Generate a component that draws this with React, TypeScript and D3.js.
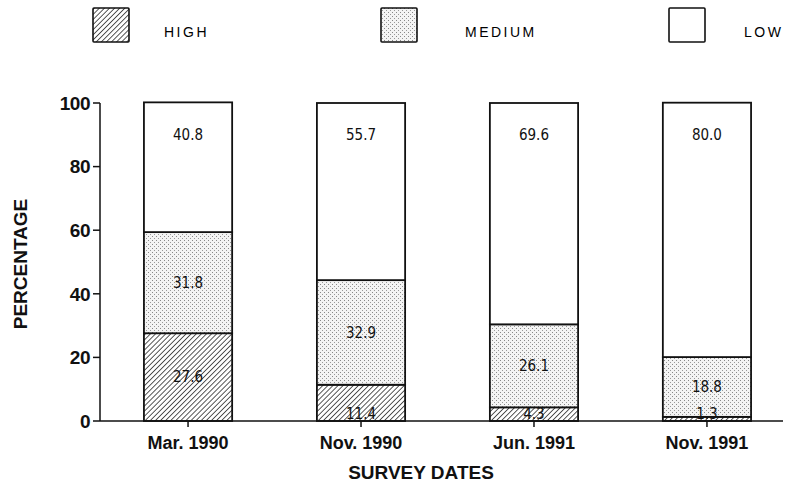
import React from "react";
import * as d3 from "d3";

// survey data, percent of respondents
const dates = ["Mar. 1990", "Nov. 1990", "Jun. 1991", "Nov. 1991"];
const high = [27.6, 11.4, 4.3, 1.3];
const medium = [31.8, 32.9, 26.1, 18.8];
const low = [40.8, 55.7, 69.6, 80.0];
const yTicks = [0, 20, 40, 60, 80, 100];
const legendLabels = ["HIGH", "MEDIUM", "LOW"];

const W = 785,
  H = 486;

export default function App() {
  const x = d3
    .scaleBand()
    .domain(dates)
    .range([100, 795])
    .paddingInner(0.49)
    .paddingOuter(0.254);
  const y = d3.scaleLinear().domain([0, 100]).range([421, 103]);

  const fills = ["url(#hatch)", "url(#dots)", "#fff"];
  const series = [high, medium, low];

  const valueFont = "'Liberation Sans Narrow', 'DejaVu Sans Condensed', sans-serif";
  const boldFont = "Arial, 'Liberation Sans', Helvetica, sans-serif";

  // label anchor inside each segment
  function labelY(s: number, i: number) {
    if (s === 0) return high[i] > 20 ? y(high[i] / 2) : y(0) - 7;
    if (s === 1) return y(high[i] + medium[i] / 2);
    return y(100) + 32;
  }

  const legendX = [93, 381, 669];
  const legendTextX = [164, 465, 744];

  return (
    <svg width={W} height={H} style={{ position: "absolute", left: 0, top: 0, background: "#fff" }}>
      <defs>
        <pattern id="hatch" width="3.6" height="3.6" patternUnits="userSpaceOnUse" patternTransform="rotate(45)">
          <rect width="3.6" height="3.6" fill="#fff" />
          <line x1="0" y1="0" x2="0" y2="3.6" stroke="#111" strokeWidth="1.4" />
        </pattern>
        <pattern id="dots" width="4" height="4" patternUnits="userSpaceOnUse">
          <rect width="4" height="4" fill="#f4f4f4" />
          <rect x="0" y="0" width="1" height="1" fill="#888" />
          <rect x="2" y="2" width="1" height="1" fill="#999" />
        </pattern>
      </defs>

      {/* legend */}
      {legendLabels.map((l, k) => (
        <g key={l}>
          <rect x={legendX[k]} y={8} width={36} height={34} fill={fills[k]} stroke="#111" strokeWidth={1.6} rx={1} />
          <text x={legendTextX[k]} y={37} fontFamily={boldFont} fontSize={14} letterSpacing={2.5} fill="#000">
            {l}
          </text>
        </g>
      ))}

      {/* bars */}
      {dates.map((d, i) => {
        let base = 0;
        return (
          <g key={d}>
            {series.map((s, k) => {
              const y0 = base;
              const y1 = base + s[i];
              base = y1;
              return (
                <rect
                  key={k}
                  x={x(d)!}
                  y={y(y1)}
                  width={x.bandwidth()}
                  height={y(y0) - y(y1)}
                  fill={fills[k]}
                  stroke="#111"
                  strokeWidth={1.8}
                />
              );
            })}
            {series.map((s, k) => (
              <text
                key={"t" + k}
                x={x(d)! + x.bandwidth() / 2}
                y={labelY(k, i)}
                dy="0.35em"
                textAnchor="middle"
                fontFamily={valueFont}
                fontSize={15}
                fill="#111"
              >
                {s[i].toFixed(1)}
              </text>
            ))}
          </g>
        );
      })}

      {/* y axis */}
      <line x1={100} x2={100} y1={y(100)} y2={y(0)} stroke="#111" strokeWidth={1.5} />
      {yTicks.map((t) => (
        <g key={t}>
          <line x1={93} x2={100} y1={y(t)} y2={y(t)} stroke="#111" strokeWidth={1.5} />
          <text x={90} y={y(t)} dy="0.36em" textAnchor="end" fontFamily={boldFont} fontWeight="bold" fontSize={19} letterSpacing={-0.5} fill="#111">
            {t}
          </text>
        </g>
      ))}
      <text
        transform={`translate(27,${(y(0) + y(100)) / 2 + 2}) rotate(-90)`}
        textAnchor="middle"
        fontFamily={boldFont}
        fontWeight="bold"
        fontSize={19}
        fill="#111"
      >
        PERCENTAGE
      </text>

      {/* x axis */}
      <line x1={100} x2={783} y1={y(0)} y2={y(0)} stroke="#111" strokeWidth={1.5} />
      {dates.map((d) => (
        <g key={d}>
          <line
            x1={x(d)! + x.bandwidth() / 2}
            x2={x(d)! + x.bandwidth() / 2}
            y1={y(0)}
            y2={y(0) + 6}
            stroke="#111"
            strokeWidth={1.5}
          />
          <text
            x={x(d)! + x.bandwidth() / 2}
            y={449}
            textAnchor="middle"
            fontFamily={boldFont}
            fontWeight="bold"
            fontSize={18}
            fill="#111"
          >
            {d}
          </text>
        </g>
      ))}
      <text x={421} y={479} textAnchor="middle" fontFamily={boldFont} fontWeight="bold" fontSize={19} fill="#111">
        SURVEY DATES
      </text>
    </svg>
  );
}
